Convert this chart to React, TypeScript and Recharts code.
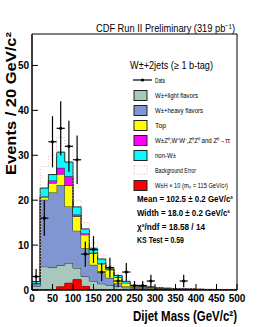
import {
  ComposedChart,
  Area,
  Line,
  Scatter,
  ErrorBar,
  XAxis,
  YAxis,
  ReferenceArea,
} from "recharts";

// bin left edges (GeV/c^2), 20 GeV bins, last entry closes the final step
const binEdges = [
  0, 20, 40, 60, 80, 100, 120, 140, 160, 180, 200, 220, 240, 260, 280, 300,
  320, 340, 360, 380, 400, 420, 440, 460, 480, 500,
];

// stacked background components (events per bin)
const lightFlavor = [
  0.8, 5.2, 5.0, 5.5, 6.0, 4.9, 3.0, 2.0, 1.4, 1.1, 0.8, 0.5, 0.4, 0.3, 0.2,
  0.2, 0.15, 0.1, 0.1, 0.1, 0.05, 0.05, 0.05, 0.03, 0.03,
];
const heavyFlavor = [
  0.6, 14.9, 16.7, 17.9, 12.6, 8.3, 6.3, 3.6, 2.3, 1.6, 0.7, 0.3, 0.2, 0.2,
  0.2, 0.15, 0.1, 0.1, 0.08, 0.05, 0.05, 0.03, 0.03, 0.02, 0.02,
];
const topQuark = [
  0.1, 0.6, 2.1, 2.4, 4.7, 3.2, 3.0, 2.6, 2.1, 1.8, 1.3, 0.8, 0.3, 0.2, 0.2,
  0.1, 0.1, 0.08, 0.06, 0.05, 0.04, 0.03, 0.03, 0.02, 0.02,
];
const diboson = [
  0, 0.1, 0.6, 1.4, 2.0, 0.4, 0.3, 0.1, 0.1, 0.1, 0.05, 0.03, 0.02, 0.02, 0.01,
  0.01, 0, 0, 0, 0, 0, 0, 0, 0, 0,
];
const nonW = [
  0.4, 1.9, 1.3, 3.5, 3.2, 1.7, 1.0, 1.0, 1.0, 0.3, 0.4, 0.3, 0.1, 0.1, 0.1,
  0.05, 0.05, 0.03, 0.03, 0.02, 0.02, 0.02, 0.01, 0.01, 0.01,
];
// W H x 10 signal, drawn on top (not stacked)
const higgsX10 = [
  0, 0, 0, 0.7, 1.5, 2.3, 0.8, 0, 0, 0, 0, 0, 0, 0, 0, 0, 0, 0, 0, 0, 0, 0, 0,
  0, 0,
];
// upper edge of the background error band
const bkgErrUp = [
  2.5, 27.5, 30.0, 34.0, 32.0, 20.0, 15.0, 10.5, 7.8, 5.5, 3.8, 2.2, 1.2, 1.0,
  0.9, 0.6, 0.5, 0.4, 0.4, 0.3, 0.3, 0.2, 0.2, 0.2, 0.2,
];

// data points: bin centre, events, stat error
const dataMass = [10, 30, 50, 70, 90, 110, 130, 150, 170, 190, 210, 230, 250, 270, 290, 370];
const dataEvents = [3, 16, 33, 36, 32, 29, 8, 9, 4, 5, 2, 4, 1, 1, 2, 2];
const dataErr = [1.7, 4.0, 5.7, 6.0, 5.7, 5.4, 2.8, 3.0, 2.0, 2.2, 1.4, 2.0, 1.0, 1.0, 1.4, 1.4];

const xTicks = [0, 50, 100, 150, 200, 250, 300, 350, 400, 450, 500];
const yTicks = [0, 10, 20, 30, 40, 50];

const rows = binEdges.map((m, i) => {
  const k = Math.min(i, lightFlavor.length - 1);
  return {
    m,
    light: lightFlavor[k],
    heavy: heavyFlavor[k],
    top: topQuark[k],
    dib: diboson[k],
    nonw: nonW[k],
    wh: higgsX10[k],
    errUp: bkgErrUp[k],
  };
});

const points = dataMass.map((m, i) => ({ m, v: dataEvents[i], e: dataErr[i], h: 10 }));

const legendItems = [
  { label: "W\u00b1+light flavors", fill: "#a9c8bd", w: 43 },
  { label: "W\u00b1+heavy flavors", fill: "#7f96d0", w: 48 },
  { label: "Top", fill: "#ffff00", w: 11 },
  { label: "W\u00b1Z\u2070,W\u207aW\u207b,Z\u2070Z\u2070 and Z\u2070\u2192\u03c4\u03c4", fill: "#ff00ff", w: 75 },
  { label: "non-W\u00b1", fill: "#00ffff", w: 21 },
];

const stats = [
  { s: "Mean = 102.5 \u00b1 0.2 GeV/c\u00b2", w: 96 },
  { s: "Width = 18.0 \u00b1 0.2 GeV/c\u00b2", w: 93 },
  { s: "\u03c7\u00b2/ndf = 18.58 / 14", w: 68 },
  { s: "KS Test = 0.59", w: 47 },
];

const sans = "'Liberation Sans', Arial, sans-serif";
const tickStyle = { fontSize: 10, fontWeight: 700, fill: "#000", fontFamily: sans };
const fit = "spacingAndGlyphs";

const Dot = (p: any) => <circle cx={p.cx} cy={p.cy} r={1.6} fill="#000" />;

function Overlay() {
  return (
    <svg
      width={266}
      height={327}
      style={{ position: "absolute", left: 0, top: 0, pointerEvents: "none" }}
    >
      <text x={96} y={32} fontSize={10.5} fontFamily={sans} textLength={139} lengthAdjust={fit}>
        {"CDF Run II Preliminary (319 pb\u207b\u00b9)"}
      </text>

      <text
        transform="translate(16,175) rotate(-90)"
        fontSize={14.5}
        fontWeight={700}
        fontFamily={sans}
        textLength={143}
        lengthAdjust={fit}
      >
        {"Events / 20 GeV/c\u00b2"}
      </text>

      <text x={133} y={321} fontSize={14} fontWeight={700} fontFamily={sans} textLength={104} lengthAdjust={fit}>
        {"Dijet Mass (GeV/c\u00b2)"}
      </text>

      <text x={130} y={69} fontSize={10.5} fontFamily={sans} textLength={83} lengthAdjust={fit}>
        {"W\u00b1+2jets (\u2265 1 b-tag)"}
      </text>

      <line x1={133} x2={152} y1={80} y2={80} stroke="#000" strokeWidth={1.2} />
      <circle cx={142.5} cy={80} r={1.6} fill="#000" />
      <text x={155} y={82.5} fontSize={6.5} fontFamily={sans} textLength={10} lengthAdjust={fit}>
        Data
      </text>

      {legendItems.map((it, i) => (
        <g key={it.label}>
          <rect x={134} y={90.5 + i * 15} width={13} height={10} fill={it.fill} stroke="#222" strokeWidth={1} />
          <text x={155} y={98 + i * 15} fontSize={6.5} fontFamily={sans} textLength={it.w} lengthAdjust={fit}>
            {it.label}
          </text>
        </g>
      ))}

      <path d="M134 166 h13 M134 174 h13 M134 166 v8 M147 166 v8" stroke="#f4b0b0" strokeDasharray="1 1.5" fill="none" />
      <text x={155} y={172.5} fontSize={6.5} fontFamily={sans} textLength={41} lengthAdjust={fit}>
        Background Error
      </text>

      <rect x={134} y={180.5} width={13} height={10} fill="#ff0000" stroke="#222" strokeWidth={1} />
      <text x={155} y={188} fontSize={6.5} fontFamily={sans} textLength={73} lengthAdjust={fit}>
        {"W\u00b1H \u00d7 10 (m\u2095 = 115 GeV/c\u00b2)"}
      </text>

      {stats.map((t, i) => (
        <text
          key={t.s}
          x={137}
          y={202 + i * 13.8}
          fontSize={8.5}
          fontWeight={700}
          fontFamily={sans}
          textLength={t.w}
          lengthAdjust={fit}
        >
          {t.s}
        </text>
      ))}
    </svg>
  );
}

export default function App() {
  return (
    <div style={{ position: "absolute", left: 0, top: 0, width: 266, height: 327, background: "#fff" }}>
      <ComposedChart
        width={266}
        height={327}
        data={rows}
        margin={{ top: 34, right: 29, left: 2, bottom: 0 }}
      >
        <XAxis
          dataKey="m"
          type="number"
          domain={[0, 500]}
          ticks={xTicks}
          interval={0}
          height={37}
          tickSize={-6}
          tickMargin={11}
          tick={tickStyle}
          axisLine={{ stroke: "#000" }}
          tickLine={{ stroke: "#000" }}
        />
        <YAxis
          type="number"
          domain={[0, 57]}
          ticks={yTicks}
          interval={0}
          width={30}
          allowDataOverflow
          tickSize={-6}
          tickMargin={9}
          tick={tickStyle}
          axisLine={{ stroke: "#000" }}
          tickLine={{ stroke: "#000" }}
        />
        <Line
          type="stepAfter"
          dataKey="errUp"
          stroke="#f4a8a8"
          strokeDasharray="1 2"
          dot={false}
          isAnimationActive={false}
        />
        <Area type="stepAfter" dataKey="light" stackId="bg" fill="#a9c8bd" fillOpacity={1} stroke="#2a2a2a" strokeWidth={1} isAnimationActive={false} />
        <Area type="stepAfter" dataKey="heavy" stackId="bg" fill="#7f96d0" fillOpacity={1} stroke="#2a2a2a" strokeWidth={1} isAnimationActive={false} />
        <Area type="stepAfter" dataKey="top" stackId="bg" fill="#ffff00" fillOpacity={1} stroke="#2a2a2a" strokeWidth={1} isAnimationActive={false} />
        <Area type="stepAfter" dataKey="dib" stackId="bg" fill="#ff00ff" fillOpacity={1} stroke="#2a2a2a" strokeWidth={1} isAnimationActive={false} />
        <Area type="stepAfter" dataKey="nonw" stackId="bg" fill="#00ffff" fillOpacity={1} stroke="#2a2a2a" strokeWidth={1} isAnimationActive={false} />
        <Area type="stepAfter" dataKey="wh" fill="#ff0000" fillOpacity={1} stroke="#b00000" strokeWidth={1} isAnimationActive={false} />
        <Scatter data={points} dataKey="v" shape={Dot} isAnimationActive={false}>
          <ErrorBar dataKey="e" direction="y" width={0} stroke="#000" strokeWidth={1.2} />
          <ErrorBar dataKey="h" direction="x" width={0} stroke="#000" strokeWidth={1.2} />
        </Scatter>
        <ReferenceArea x1={0} x2={500} y1={0} y2={57} fill="none" stroke="#000" strokeWidth={1} />
      </ComposedChart>
      <Overlay />
    </div>
  );
}
